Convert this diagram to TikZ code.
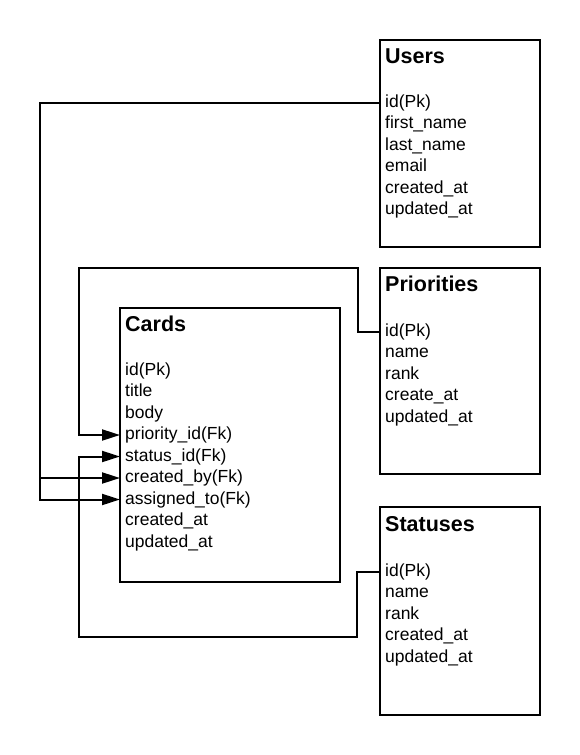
\documentclass[tikz,border=0pt]{standalone}
\usepackage{fontspec}
\setmainfont{Liberation Sans}
\usetikzlibrary{arrows.meta}

\tikzset{
    entity/.style={draw, line width=2pt, minimum width=160pt, anchor=north west, inner sep=0pt, outer sep=0pt},
    entname/.style={anchor=base west, inner sep=0pt, font=\fontsize{21.5}{24}\selectfont\bfseries},
    attr/.style={anchor=base west, inner sep=0pt, text height=13pt, text depth=4pt, font=\fontsize{17.5}{21}\selectfont},
    link/.style={line width=2pt},
    fk/.style={link, -{Triangle[length=18pt,width=11pt]}}
}

\begin{document}
\begin{tikzpicture}[x=1pt,y=-1pt]
        \useasboundingbox (0,0) rectangle (580,755);

        % Tables
        \node[entity, minimum height=207pt] (users) at (380,40) {};
        \node[entity, minimum height=206pt] (prio) at (380,268) {};
        \node[entity, minimum height=274pt, minimum width=220pt] (cards) at (120,308) {};
        \node[entity, minimum height=208pt] (stat) at (380,507) {};

        % Table names
        \foreach \n/\t/\x/\y in {users/Users/385/63, prio/Priorities/385/291, cards/Cards/125/331, stat/Statuses/385/531}
            {
                \node[entname] (\n-name) at (\x,\y) {\t};
            }

        % Columns
        \foreach \col [count=\i] in {id(Pk), first\_name, last\_name, email, created\_at, updated\_at}
            {
                \node[attr] (users-\i) at (385,{107+21.5*(\i-1)}) {\col};
            }
        \foreach \col [count=\i] in {id(Pk), name, rank, create\_at, updated\_at}
            {
                \node[attr] (prio-\i) at (385,{336+21.5*(\i-1)}) {\col};
            }
        \foreach \col [count=\i] in {id(Pk), title, body, priority\_id(Fk), status\_id(Fk), created\_by(Fk), assigned\_to(Fk), created\_at, updated\_at}
            {
                \node[attr] (cards-\i) at (125,{375+21.5*(\i-1)}) {\col};
            }
        \foreach \col [count=\i] in {id(Pk), name, rank, created\_at, updated\_at}
            {
                \node[attr] (stat-\i) at (385,{576+21.5*(\i-1)}) {\col};
            }

        % Bends
        \coordinate (ubus) at (40,0);
        \coordinate (fkbus) at (79,0);
        \coordinate (pturn) at (358,268);
        \coordinate (sturn) at (357,637);

        % Foreign keys
        \draw[fk] (users.west |- users-1) -| (ubus |- cards-7) -- (cards.west |- cards-7);
        \draw[fk] (ubus |- cards-6) -- (cards.west |- cards-6);
        \draw[fk] (prio.west |- prio-1) -| (pturn) -| (fkbus |- cards-4) -- (cards.west |- cards-4);
        \draw[fk] (stat.west |- stat-1) -| (sturn) -| (fkbus |- cards-5) -- (cards.west |- cards-5);

    \end{tikzpicture}
\end{document}
